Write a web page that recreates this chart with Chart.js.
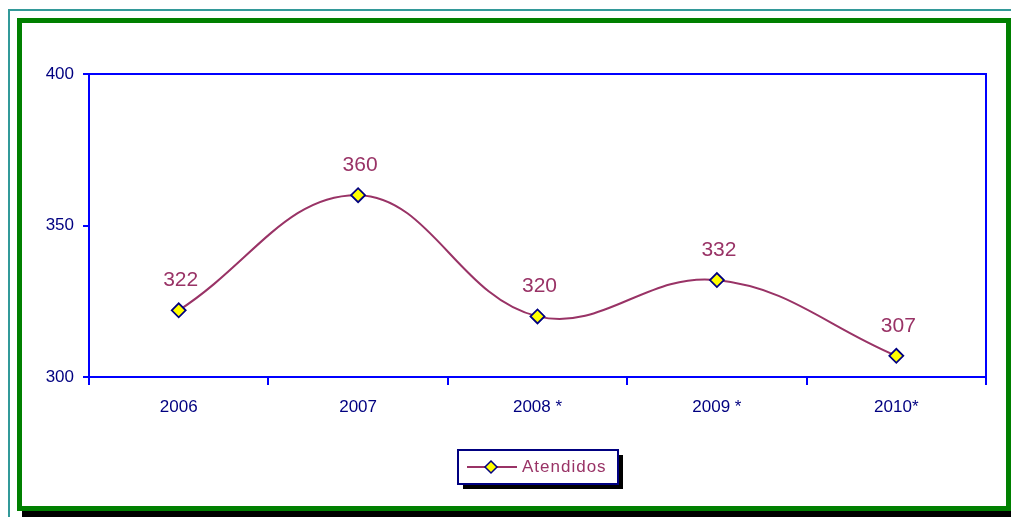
<!DOCTYPE html>
<html>
<head>
<meta charset="utf-8">
<script src="https://cdn.jsdelivr.net/npm/chart.js@4/dist/chart.umd.min.js"></script>
<style>
html,body{margin:0;padding:0;background:#fff;}
#wrap{width:1011px;height:517px;position:relative;}
</style>
</head>
<body>
<div id="wrap"><canvas id="c" width="1011" height="517"></canvas></div>
<script>
const categories = ["2006", "2007", "2008 *", "2009 *", "2010*"];
const atendidos = [322, 360, 320, 332, 307];
const seriesName = "Atendidos";
const yTicks = [300, 350, 400];

const FONT = "'Liberation Sans', Arial, sans-serif";
const PLUM = "#993366";
const NAVY = "#000080";
const BLUE = "#0000FF";

const framePlugin = {
  id: 'frame',
  beforeDraw(chart) {
    const ctx = chart.ctx;
    ctx.save();
    ctx.fillStyle = '#fff';
    ctx.fillRect(0, 0, chart.width, chart.height);
    // outer teal frame
    ctx.strokeStyle = '#339999';
    ctx.lineWidth = 2;
    ctx.strokeRect(9, 10, 1100, 1100);
    // shadow
    ctx.fillStyle = '#000';
    ctx.fillRect(22, 511, 1000, 10);
    // green frame
    ctx.strokeStyle = '#008000';
    ctx.lineWidth = 5;
    ctx.strokeRect(19.5, 20.5, 989, 488);
    ctx.restore();
  },
  afterDraw(chart) {
    const ctx = chart.ctx;
    const a = chart.chartArea;
    ctx.save();
    // plot top/right border
    ctx.strokeStyle = BLUE;
    ctx.lineWidth = 2;
    ctx.beginPath();
    ctx.moveTo(a.left, a.top);
    ctx.lineTo(a.right, a.top);
    ctx.lineTo(a.right, a.bottom);
    ctx.stroke();
    // data labels
    const meta = chart.getDatasetMeta(0);
    ctx.fillStyle = PLUM;
    ctx.font = "21px " + FONT;
    ctx.textAlign = 'center';
    ctx.textBaseline = 'middle';
    meta.data.forEach((pt, i) => {
      ctx.fillText(String(chart.data.datasets[0].data[i]), pt.x + 2, pt.y - 30);
    });
    // legend
    const lx = 458, ly = 450, lw = 160, lh = 34;
    ctx.fillStyle = '#000';
    ctx.fillRect(lx + 5, ly + 5, lw, lh);
    ctx.fillStyle = '#fff';
    ctx.fillRect(lx, ly, lw, lh);
    ctx.strokeStyle = NAVY;
    ctx.lineWidth = 2;
    ctx.strokeRect(lx, ly, lw, lh);
    const cy = ly + 17;
    ctx.strokeStyle = PLUM;
    ctx.lineWidth = 2;
    ctx.beginPath();
    ctx.moveTo(467, cy);
    ctx.lineTo(517, cy);
    ctx.stroke();
    ctx.beginPath();
    ctx.moveTo(491, cy - 6);
    ctx.lineTo(497, cy);
    ctx.lineTo(491, cy + 6);
    ctx.lineTo(485, cy);
    ctx.closePath();
    ctx.fillStyle = '#FFFF00';
    ctx.fill();
    ctx.strokeStyle = NAVY;
    ctx.lineWidth = 1.5;
    ctx.stroke();
    ctx.fillStyle = PLUM;
    ctx.font = "17px " + FONT;
    ctx.textAlign = 'left';
    ctx.textBaseline = 'middle';
    if ('letterSpacing' in ctx) ctx.letterSpacing = '1px';
    ctx.fillText(seriesName, 522, cy);
    ctx.restore();
  }
};

new Chart(document.getElementById('c'), {
  type: 'line',
  data: {
    labels: categories,
    datasets: [{
      label: seriesName,
      data: atendidos,
      borderColor: PLUM,
      borderWidth: 2,
      tension: 0.4,
      fill: false,
      pointStyle: 'rectRot',
      pointRadius: 7,
      pointBackgroundColor: '#FFFF00',
      pointBorderColor: NAVY,
      pointBorderWidth: 1.8
    }]
  },
  options: {
    responsive: false,
    animation: false,
    events: [],
    layout: { padding: { top: 74, right: 25, left: 0, bottom: 0 } },
    plugins: { legend: { display: false }, tooltip: { enabled: false } },
    scales: {
      x: {
        offset: true,
        grid: { offset: true, drawOnChartArea: false, color: BLUE, lineWidth: 2, tickLength: 8 },
        border: { color: BLUE, width: 2 },
        ticks: { color: NAVY, font: { family: FONT, size: 17 }, padding: 12, maxRotation: 0 },
        afterFit(s) { s.height = 140; }
      },
      y: {
        min: 300, max: 400,
        afterBuildTicks(s) { s.ticks = yTicks.map(v => ({ value: v })); },
        grid: { drawOnChartArea: false, color: BLUE, lineWidth: 2, tickLength: 6 },
        border: { color: BLUE, width: 2 },
        ticks: { color: NAVY, font: { family: FONT, size: 17 }, padding: 9 },
        afterFit(s) { s.width = 89; }
      }
    }
  },
  plugins: [framePlugin]
});
</script>
</body>
</html>
